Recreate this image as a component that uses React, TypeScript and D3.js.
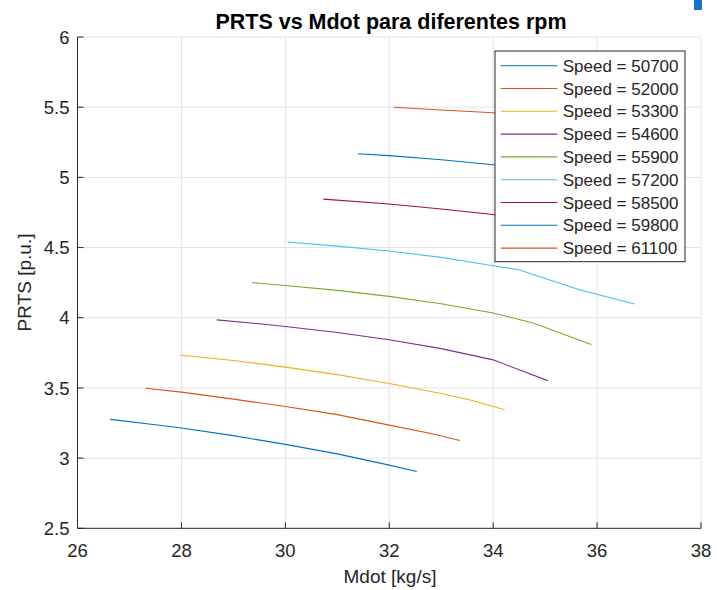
import React from "react";
import * as d3 from "d3";

const speeds = [50700, 52000, 53300, 54600, 55900, 57200, 58500, 59800, 61100];
const colors = ["#0072BD", "#D95319", "#EDB120", "#7E2F8E", "#77AC30", "#4DBEEE", "#A2142F", "#0072BD", "#D95319"];

const mdot50700 = [26.63, 27.5, 28.0, 29.0, 30.0, 31.0, 32.0, 32.53];
const prts50700 = [3.276, 3.238, 3.215, 3.16, 3.098, 3.03, 2.95, 2.905];
const mdot52000 = [27.31, 28.0, 29.0, 30.0, 31.0, 32.0, 32.8, 33.36];
const prts52000 = [3.498, 3.47, 3.42, 3.368, 3.31, 3.235, 3.175, 3.125];
const mdot53300 = [27.98, 29.0, 30.0, 31.0, 32.0, 33.0, 33.6, 34.22];
const prts53300 = [3.735, 3.695, 3.648, 3.595, 3.532, 3.46, 3.41, 3.345];
const mdot54600 = [28.68, 29.5, 30.0, 31.0, 32.0, 33.0, 34.0, 35.05];
const prts54600 = [3.985, 3.957, 3.938, 3.895, 3.843, 3.78, 3.7, 3.552];
const mdot55900 = [29.36, 30.0, 31.0, 32.0, 33.0, 34.0, 34.77, 35.89];
const prts55900 = [4.25, 4.23, 4.195, 4.152, 4.1, 4.034, 3.962, 3.81];
const mdot57200 = [30.04, 31.0, 32.0, 33.0, 34.0, 34.48, 35.0, 35.66, 36.72];
const prts57200 = [4.54, 4.51, 4.475, 4.43, 4.37, 4.343, 4.28, 4.2, 4.098];
const mdot58500 = [30.73, 32.0, 33.0, 34.0, 34.8, 35.4];
const prts58500 = [4.845, 4.81, 4.775, 4.735, 4.68, 4.62];
const mdot59800 = [31.4, 32.0, 33.0, 34.0, 34.9, 35.6];
const prts59800 = [5.168, 5.155, 5.125, 5.09, 5.04, 4.98];
const mdot61100 = [32.09, 33.0, 34.0, 35.0, 35.7];
const prts61100 = [5.5, 5.48, 5.46, 5.43, 5.39];

const mdotSeries = [mdot50700, mdot52000, mdot53300, mdot54600, mdot55900, mdot57200, mdot58500, mdot59800, mdot61100];
const prtsSeries = [prts50700, prts52000, prts53300, prts54600, prts55900, prts57200, prts58500, prts59800, prts61100];

const xTicks = [26, 28, 30, 32, 34, 36, 38];
const yTicks = [2.5, 3, 3.5, 4, 4.5, 5, 5.5, 6];

const FONT = "'Liberation Sans', Arial, Helvetica, sans-serif";
const AX = "#262626";
const GRID = "#e3e3e3";

export default function App() {
  const left = 77.5, right = 701, top = 37, bottom = 528.3;
  const x = d3.scaleLinear().domain([26, 38]).range([left, right]);
  const y = d3.scaleLinear().domain([2.5, 6]).range([bottom, top]);
  const line = d3.line<[number, number]>().x(d => x(d[0])).y(d => y(d[1]));

  const legX = 495, legY = 51, legW = 190, legH = 210.7;
  const rowH = 22.8;
  const row0 = 65.7;

  return (
    <svg width={717} height={590} style={{ position: "absolute", left: 0, top: 0, background: "#fff" }}>
      <rect x={0} y={0} width={717} height={590} fill="#fff" />
      {xTicks.slice(1).map(t => (
        <line key={"gx" + t} x1={x(t)} x2={x(t)} y1={top} y2={bottom} stroke={GRID} strokeWidth={1} />
      ))}
      {yTicks.slice(1).map(t => (
        <line key={"gy" + t} x1={left} x2={right} y1={y(t)} y2={y(t)} stroke={GRID} strokeWidth={1} />
      ))}
      {mdotSeries.map((xs, i) => (
        <path key={"s" + i} d={line(xs.map((v, j) => [v, prtsSeries[i][j]]) as [number, number][]) || ""}
          fill="none" stroke={colors[i]} strokeWidth={1.1} />
      ))}
      <line x1={left} x2={left} y1={top} y2={bottom} stroke={AX} strokeWidth={1} />
      <line x1={left} x2={right} y1={bottom} y2={bottom} stroke={AX} strokeWidth={1} />
      {xTicks.map(t => (
        <g key={"xt" + t}>
          <line x1={x(t)} x2={x(t)} y1={bottom} y2={bottom - 6} stroke={AX} />
          <text x={x(t)} y={557} textAnchor="middle" fontFamily={FONT} fontSize={18.5} fill={AX}>{t}</text>
        </g>
      ))}
      {yTicks.map(t => (
        <g key={"yt" + t}>
          <line x1={left} x2={left + 6} y1={y(t)} y2={y(t)} stroke={AX} />
          <text x={69.5} y={y(t) + 6.7} textAnchor="end" fontFamily={FONT} fontSize={18.5} fill={AX}>{t}</text>
        </g>
      ))}
      <text x={390} y={583.3} textAnchor="middle" fontFamily={FONT} fontSize={19} fill={AX}>Mdot [kg/s]</text>
      <text transform={`translate(31,282.5) rotate(-90)`} textAnchor="middle" fontFamily={FONT} fontSize={19} fill={AX}>PRTS [p.u.]</text>
      <text x={391} y={29.3} textAnchor="middle" fontFamily={FONT} fontSize={21.5} fontWeight="bold" fill="#000">PRTS vs Mdot para diferentes rpm</text>
      <rect x={legX} y={legY} width={legW} height={legH} fill="#fff" stroke={AX} strokeWidth={1} />
      {speeds.map((s, i) => (
        <g key={"lg" + i}>
          <line x1={500.7} x2={557.3} y1={row0 + i * rowH} y2={row0 + i * rowH} stroke={colors[i]} strokeWidth={1.1} />
          <text x={562.7} y={row0 + i * rowH + 6} fontFamily={FONT} fontSize={17} fill={AX}>{`Speed = ${s}`}</text>
        </g>
      ))}
      <rect x={694} y={0} width={8} height={10} fill="#1a73c8" />
    </svg>
  );
}
